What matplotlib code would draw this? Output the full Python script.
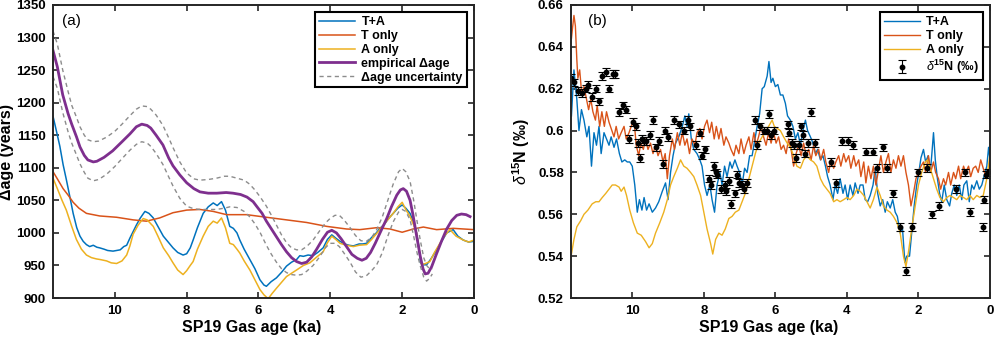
import matplotlib
matplotlib.use("Agg")
import matplotlib.pyplot as plt
from matplotlib.ticker import FuncFormatter

plt.rcParams['font.family'] = ['Liberation Sans', 'DejaVu Sans']
plt.rcParams['mathtext.fontset'] = 'custom'
plt.rcParams['mathtext.rm'] = 'Liberation Sans'
plt.rcParams['mathtext.it'] = 'Liberation Sans:italic'
plt.rcParams['mathtext.bf'] = 'Liberation Sans:bold'

# ---------------- panel (a): delta age (years) ----------------
a_emp_age = [11.72, 11.60, 11.45, 11.30, 11.20, 11.07, 10.97, 10.85, 10.75, 10.60, 10.50, 10.30,
             10.06, 9.80, 9.58, 9.40, 9.25, 9.10, 9.00, 8.85, 8.66, 8.50, 8.38, 8.19, 8.00,
             7.80, 7.63, 7.40, 7.16, 6.90, 6.71, 6.50, 6.32, 6.15, 6.04, 5.90, 5.78, 5.64,
             5.50, 5.36, 5.22, 5.08, 4.94, 4.80, 4.66, 4.52, 4.38, 4.22, 4.08, 3.96, 3.83,
             3.70, 3.55, 3.40, 3.25, 3.12, 3.00, 2.88, 2.75, 2.60, 2.43, 2.30, 2.15, 2.05,
             1.97, 1.88, 1.78, 1.70, 1.60, 1.50, 1.42, 1.36, 1.28, 1.18, 1.05, 0.90, 0.76,
             0.62, 0.48, 0.35, 0.22, 0.11]
a_emp = [1280, 1255, 1212, 1183, 1167, 1148, 1132, 1119, 1112, 1109, 1110, 1116,
         1126, 1140, 1152, 1163, 1167, 1165, 1161, 1150, 1135, 1115, 1103, 1089, 1077,
         1068, 1063, 1061, 1061, 1062, 1061, 1059, 1055, 1048, 1040, 1030, 1018, 1006,
         994, 982, 971, 962, 956, 953, 955, 963, 975, 990, 1001, 1004, 1000,
         991, 979, 967, 961, 958, 961, 970, 984, 1002, 1022, 1040, 1058, 1066,
         1068, 1064, 1050, 1028, 996, 965, 945, 937, 938, 948, 967, 988, 1006,
         1019, 1027, 1029, 1028, 1025]

a_unc_age = [11.72, 11.60, 11.45, 11.30, 11.20, 11.07, 10.97, 10.85, 10.75, 10.60, 10.45, 10.23,
             10.00, 9.80, 9.58, 9.40, 9.25, 9.10, 9.00, 8.85, 8.66, 8.50, 8.38, 8.19, 8.00,
             7.80, 7.63, 7.40, 7.17, 6.95, 6.80, 6.60, 6.40, 6.25, 6.10, 5.95, 5.78, 5.64,
             5.50, 5.36, 5.22, 5.08, 4.94, 4.80, 4.66, 4.48, 4.30, 4.14, 4.01, 3.87, 3.75,
             3.62, 3.45, 3.30, 3.15, 3.00, 2.85, 2.71, 2.55, 2.40, 2.25, 2.10, 2.00, 1.90,
             1.78, 1.68, 1.58, 1.50, 1.40, 1.32, 1.24, 1.16]
a_unc_hi = [1310, 1290, 1250, 1217, 1196, 1178, 1163, 1150, 1143, 1140, 1141, 1147,
            1156, 1167, 1180, 1190, 1195, 1194, 1190, 1181, 1165, 1146, 1131, 1109, 1092,
            1083, 1081, 1082, 1084, 1087, 1087, 1084, 1081, 1075, 1066, 1055, 1041, 1027,
            1012, 997, 985, 977, 974, 974, 979, 989, 1003, 1015, 1022, 1027, 1027,
            1020, 1008, 996, 988, 987, 993, 1005, 1025, 1050, 1075, 1094, 1099, 1094,
            1079, 1050, 1016, 990, 962, 950, 945, 945]
a_unc_lo = [1240, 1222, 1185, 1155, 1138, 1120, 1106, 1093, 1084, 1080, 1082, 1090,
            1102, 1114, 1127, 1136, 1140, 1138, 1133, 1122, 1105, 1086, 1072, 1053, 1041,
            1037, 1036, 1036, 1036, 1038, 1040, 1039, 1033, 1025, 1014, 1000, 981, 967,
            955, 945, 939, 936, 935, 936, 941, 950, 963, 977, 984, 984, 979,
            969, 955, 940, 932, 934, 942, 951, 970, 995, 1017, 1032, 1036, 1033,
            1020, 995, 968, 950, 932, 926, 930, 937]

a_t_age = [11.72, 11.60, 11.44, 11.30, 11.16, 11.00, 10.79, 10.42, 9.95, 9.49, 9.12, 8.75,
           8.38, 8.00, 7.63, 7.26, 6.89, 6.33, 5.78, 5.22, 4.66, 4.10, 3.55, 3.18, 2.71,
           2.34, 2.00, 1.69, 1.41, 1.04, 0.58, 0.00]
a_t = [1094, 1083, 1068, 1058, 1047, 1038, 1030, 1026, 1024, 1020, 1018, 1023,
       1031, 1035, 1036, 1033, 1028, 1028, 1024, 1020, 1016, 1010, 1006, 1005, 1008,
       1006, 1001, 1006, 1009, 1005, 1007, 1005]

a_ta_age = [11.72, 11.62, 11.53, 11.44, 11.35, 11.25, 11.16, 11.06, 10.97, 10.88, 10.79, 10.70,
            10.60, 10.50, 10.42, 10.30, 10.20, 10.05, 9.95, 9.85, 9.75, 9.67, 9.58, 9.49,
            9.40, 9.30, 9.20, 9.16, 9.05, 8.93, 8.80, 8.65, 8.50, 8.38, 8.25, 8.10, 8.00,
            7.90, 7.82, 7.70, 7.54, 7.40, 7.26, 7.15, 7.03, 6.92, 6.80, 6.70, 6.60, 6.52,
            6.40, 6.24, 6.10, 5.96, 5.85, 5.78, 5.65, 5.50, 5.35, 5.22, 5.08, 4.94, 4.85,
            4.75, 4.62, 4.48, 4.35, 4.20, 4.08, 3.96, 3.85, 3.73, 3.60, 3.48, 3.36, 3.20,
            3.10, 2.99, 2.85, 2.75, 2.62, 2.50, 2.38, 2.25, 2.12, 2.00, 1.90, 1.78, 1.68,
            1.60, 1.54, 1.49, 1.40, 1.32, 1.20, 1.04, 0.90, 0.76, 0.62, 0.58, 0.45, 0.30,
            0.15, 0.00]
a_ta = [1179, 1155, 1133, 1105, 1082, 1055, 1030, 1008, 995, 987, 982, 979,
        981, 978, 977, 975, 973, 972, 973, 974, 979, 981, 992, 1002,
        1012, 1022, 1030, 1033, 1030, 1023, 1010, 995, 985, 977, 970, 966, 968,
        977, 989, 1008, 1030, 1040, 1046, 1042, 1048, 1035, 1010, 1007, 1000, 989,
        975, 959, 945, 928, 920, 918, 925, 931, 940, 949, 955, 959, 965,
        964, 966, 965, 970, 977, 990, 997, 992, 987, 983, 981, 980, 983,
        983, 984, 993, 998, 1007, 1013, 1022, 1030, 1038, 1043, 1038, 1030, 1015,
        1000, 980, 954, 951, 951, 960, 974, 987, 1000, 1004, 1005, 995, 989,
        986, 987]

a_a_age = [11.72, 11.60, 11.47, 11.35, 11.20, 11.07, 10.93, 10.79, 10.65, 10.51, 10.40, 10.23,
           10.10, 9.95, 9.80, 9.67, 9.58, 9.49, 9.35, 9.21, 9.10, 8.93, 8.80, 8.65, 8.50,
           8.38, 8.25, 8.10, 8.00, 7.90, 7.82, 7.70, 7.54, 7.40, 7.26, 7.15, 7.03, 6.92,
           6.80, 6.70, 6.60, 6.52, 6.40, 6.24, 6.10, 5.96, 5.85, 5.73, 5.62, 5.50, 5.36,
           5.22, 5.08, 4.94, 4.75, 4.57, 4.40, 4.20, 4.08, 3.96, 3.85, 3.73, 3.55, 3.36,
           3.20, 2.99, 2.85, 2.62, 2.45, 2.25, 2.12, 2.00, 1.90, 1.78, 1.68, 1.60, 1.53,
           1.46, 1.35, 1.23, 1.10, 0.95, 0.80, 0.67, 0.50, 0.30, 0.15, 0.00]
a_a = [1084, 1068, 1050, 1035, 1010, 990, 975, 966, 962, 960, 959, 957,
       954, 953, 957, 966, 980, 998, 1012, 1022, 1020, 1010, 995, 977, 965,
       954, 943, 936, 942, 950, 956, 975, 995, 1010, 1018, 1015, 1023, 1008,
       984, 982, 975, 969, 957, 943, 928, 913, 905, 899, 907, 915, 924,
       933, 938, 943, 950, 954, 962, 971, 985, 995, 990, 984, 981, 979,
       981, 982, 990, 1005, 1017, 1030, 1040, 1047, 1036, 1025, 1012, 1000, 975,
       951, 953, 956, 970, 984, 997, 1005, 995, 989, 986, 989]

# ---------------- panel (b): d15N (permil) ----------------
b_ta_age = [11.70, 11.63, 11.55, 11.49, 11.42, 11.35, 11.27, 11.21, 11.14, 11.07, 11.00, 10.93,
            10.87, 10.79, 10.72, 10.65, 10.59, 10.51, 10.44, 10.36, 10.29, 10.21, 10.14, 10.07,
            10.00, 9.93, 9.86, 9.80, 9.73, 9.67, 9.60, 9.53, 9.44, 9.35, 9.26, 9.16, 9.07,
            9.00, 8.93, 8.86, 8.79, 8.70, 8.60, 8.53, 8.47, 8.42, 8.35, 8.28, 8.19, 8.11,
            8.05, 7.98, 7.91, 7.83, 7.77, 7.70, 7.63, 7.55, 7.49, 7.42, 7.35, 7.27, 7.21,
            7.13, 7.07, 7.00, 6.93, 6.86, 6.79, 6.72, 6.65, 6.59, 6.51, 6.44, 6.37, 6.31,
            6.23, 6.18, 6.12, 6.07, 6.00, 5.93, 5.86, 5.79, 5.72, 5.66, 5.58, 5.51, 5.44,
            5.37, 5.30, 5.23, 5.16, 5.10, 5.02, 4.95, 4.88, 4.82, 4.74, 4.67, 4.60, 4.54,
            4.47, 4.39, 4.33, 4.26, 4.19, 4.11, 4.05, 3.98, 3.91, 3.83, 3.77, 3.69, 3.63,
            3.55, 3.49, 3.42, 3.35, 3.27, 3.21, 3.14, 3.07, 3.00, 2.93, 2.87, 2.79, 2.72,
            2.65, 2.59, 2.51, 2.45, 2.38, 2.33, 2.25, 2.19, 2.12, 2.05, 1.99, 1.93, 1.86,
            1.80, 1.73, 1.67, 1.63, 1.58, 1.53, 1.47, 1.41, 1.35, 1.28, 1.21, 1.13, 1.07,
            1.00, 0.93, 0.86, 0.79, 0.73, 0.65, 0.58, 0.51, 0.45, 0.37, 0.30, 0.23, 0.17,
            0.09, 0.04, 0.00]
b_ta = [0.607, 0.629, 0.615, 0.600, 0.610, 0.605, 0.597, 0.602, 0.583, 0.599, 0.593, 0.602,
        0.589, 0.599, 0.596, 0.593, 0.597, 0.592, 0.596, 0.589, 0.585, 0.586, 0.585, 0.585,
        0.583, 0.574, 0.561, 0.567, 0.562, 0.568, 0.562, 0.565, 0.561, 0.563, 0.566, 0.571, 0.575,
        0.567, 0.580, 0.588, 0.594, 0.597, 0.602, 0.607, 0.602, 0.608, 0.596, 0.591, 0.589, 0.586,
        0.583, 0.574, 0.569, 0.574, 0.567, 0.561, 0.574, 0.580, 0.574, 0.583, 0.578, 0.585, 0.582,
        0.586, 0.583, 0.580, 0.574, 0.582, 0.580, 0.588, 0.588, 0.594, 0.602, 0.608, 0.620, 0.621,
        0.626, 0.633, 0.623, 0.625, 0.621, 0.622, 0.617, 0.617, 0.613, 0.607, 0.605, 0.602, 0.596,
        0.599, 0.593, 0.600, 0.605, 0.600, 0.597, 0.594, 0.589, 0.591, 0.586, 0.588, 0.583, 0.578,
        0.574, 0.567, 0.574, 0.570, 0.577, 0.570, 0.574, 0.567, 0.574, 0.569, 0.575, 0.570, 0.574,
        0.574, 0.567, 0.566, 0.569, 0.574, 0.582, 0.570, 0.564, 0.567, 0.561, 0.566, 0.563, 0.567,
        0.561, 0.559, 0.551, 0.554, 0.537, 0.540, 0.540, 0.551, 0.564, 0.574, 0.580, 0.587, 0.591,
        0.585, 0.588, 0.580, 0.588, 0.599, 0.586, 0.577, 0.570, 0.566, 0.574, 0.567, 0.564, 0.570,
        0.574, 0.569, 0.574, 0.567, 0.574, 0.576, 0.566, 0.574, 0.572, 0.576, 0.572, 0.574, 0.578,
        0.583, 0.592, 0.586]

b_t_age = [11.70, 11.67, 11.63, 11.59, 11.55, 11.52, 11.47, 11.41, 11.35, 11.28, 11.22, 11.16,
           11.10, 11.03, 10.98, 10.91, 10.85, 10.78, 10.72, 10.65, 10.59, 10.51, 10.45, 10.38,
           10.31, 10.23, 10.17, 10.09, 10.03, 9.95, 9.89, 9.82, 9.76, 9.69, 9.63, 9.56, 9.49,
           9.42, 9.35, 9.28, 9.21, 9.14, 9.08, 9.02, 8.96, 8.88, 8.82, 8.74, 8.67, 8.60, 8.53,
           8.47, 8.40, 8.33, 8.25, 8.19, 8.11, 8.05, 7.98, 7.91, 7.84, 7.78, 7.71, 7.65, 7.58,
           7.52, 7.44, 7.38, 7.30, 7.24, 7.16, 7.10, 7.02, 6.96, 6.88, 6.82, 6.74, 6.68, 6.60,
           6.54, 6.47, 6.40, 6.33, 6.26, 6.19, 6.12, 6.05, 5.98, 5.91, 5.84, 5.77, 5.70, 5.63,
           5.56, 5.49, 5.42, 5.35, 5.28, 5.21, 5.14, 5.07, 5.00, 4.93, 4.87, 4.79, 4.73, 4.65,
           4.59, 4.51, 4.45, 4.37, 4.31, 4.23, 4.17, 4.09, 4.03, 3.95, 3.89, 3.81, 3.75, 3.67,
           3.61, 3.53, 3.47, 3.40, 3.33, 3.26, 3.19, 3.13, 3.05, 2.98, 2.91, 2.84, 2.77, 2.70,
           2.63, 2.56, 2.49, 2.42, 2.35, 2.28, 2.21, 2.14, 2.07, 2.00, 1.93, 1.86, 1.80, 1.72,
           1.66, 1.58, 1.52, 1.44, 1.38, 1.30, 1.24, 1.16, 1.10, 1.02, 0.96, 0.88, 0.82, 0.74,
           0.68, 0.60, 0.54, 0.47, 0.40, 0.33, 0.26, 0.19, 0.12, 0.06, 0.00]
b_t = [0.644, 0.649, 0.655, 0.650, 0.634, 0.625, 0.629, 0.617, 0.621, 0.615, 0.610, 0.615,
       0.609, 0.605, 0.612, 0.602, 0.609, 0.602, 0.609, 0.604, 0.601, 0.597, 0.602, 0.596,
       0.599, 0.602, 0.596, 0.599, 0.602, 0.605, 0.593, 0.588, 0.594, 0.591, 0.596, 0.591, 0.594,
       0.589, 0.593, 0.588, 0.591, 0.585, 0.589, 0.577, 0.588, 0.596, 0.591, 0.599, 0.593, 0.599,
       0.593, 0.596, 0.589, 0.596, 0.593, 0.599, 0.601, 0.596, 0.602, 0.605, 0.599, 0.604, 0.596,
       0.602, 0.596, 0.601, 0.593, 0.597, 0.594, 0.591, 0.588, 0.593, 0.589, 0.596, 0.589, 0.593,
       0.597, 0.591, 0.599, 0.593, 0.597, 0.602, 0.597, 0.593, 0.599, 0.594, 0.599, 0.594, 0.597,
       0.591, 0.593, 0.589, 0.596, 0.591, 0.583, 0.589, 0.593, 0.588, 0.594, 0.588, 0.591, 0.586,
       0.593, 0.588, 0.591, 0.586, 0.591, 0.585, 0.580, 0.586, 0.582, 0.585, 0.588, 0.583, 0.589,
       0.585, 0.588, 0.582, 0.588, 0.583, 0.586, 0.578, 0.585, 0.575, 0.583, 0.577, 0.583, 0.574,
       0.580, 0.588, 0.580, 0.585, 0.589, 0.580, 0.586, 0.582, 0.588, 0.583, 0.588, 0.580, 0.574,
       0.564, 0.570, 0.577, 0.580, 0.583, 0.585, 0.580, 0.588, 0.580, 0.585, 0.580, 0.577, 0.572,
       0.577, 0.574, 0.580, 0.574, 0.580, 0.577, 0.583, 0.577, 0.583, 0.580, 0.583, 0.578, 0.582,
       0.583, 0.580, 0.586, 0.582, 0.578, 0.580, 0.583]

b_a_age = [11.70, 11.63, 11.55, 11.44, 11.35, 11.24, 11.12, 11.02, 10.93, 10.84, 10.74, 10.65,
           10.56, 10.47, 10.37, 10.31, 10.23, 10.16, 10.07, 9.97, 9.86, 9.75, 9.63, 9.53, 9.44,
           9.35, 9.23, 9.12, 9.02, 8.93, 8.84, 8.74, 8.65, 8.56, 8.47, 8.37, 8.28, 8.19, 8.09,
           8.00, 7.91, 7.81, 7.75, 7.67, 7.58, 7.49, 7.40, 7.30, 7.21, 7.12, 7.02, 6.93, 6.84,
           6.74, 6.65, 6.56, 6.47, 6.37, 6.28, 6.19, 6.09, 6.03, 5.95, 5.86, 5.77, 5.67, 5.58,
           5.49, 5.40, 5.30, 5.21, 5.12, 5.02, 4.93, 4.84, 4.74, 4.65, 4.56, 4.47, 4.37, 4.28,
           4.19, 4.09, 4.00, 3.91, 3.81, 3.72, 3.63, 3.53, 3.44, 3.35, 3.26, 3.16, 3.07, 2.98,
           2.88, 2.79, 2.70, 2.60, 2.51, 2.42, 2.35, 2.28, 2.19, 2.09, 2.00, 1.91, 1.81, 1.75,
           1.67, 1.58, 1.49, 1.40, 1.30, 1.21, 1.12, 1.02, 0.93, 0.84, 0.74, 0.65, 0.56, 0.47,
           0.37, 0.28, 0.19, 0.09, 0.00]
b_a = [0.541, 0.548, 0.554, 0.557, 0.560, 0.562, 0.565, 0.566, 0.566, 0.568, 0.570, 0.572,
       0.574, 0.574, 0.573, 0.571, 0.573, 0.569, 0.562, 0.556, 0.551, 0.550, 0.547, 0.544, 0.546,
       0.551, 0.556, 0.561, 0.567, 0.574, 0.578, 0.582, 0.586, 0.583, 0.582, 0.580, 0.578, 0.574,
       0.569, 0.561, 0.553, 0.546, 0.541, 0.548, 0.551, 0.550, 0.553, 0.558, 0.559, 0.561, 0.562,
       0.566, 0.570, 0.577, 0.583, 0.589, 0.594, 0.597, 0.599, 0.602, 0.605, 0.602, 0.601, 0.600,
       0.597, 0.594, 0.592, 0.588, 0.583, 0.582, 0.586, 0.588, 0.586, 0.585, 0.583, 0.577, 0.574,
       0.572, 0.570, 0.566, 0.567, 0.566, 0.567, 0.568, 0.567, 0.569, 0.572, 0.571, 0.569, 0.566,
       0.563, 0.567, 0.573, 0.569, 0.564, 0.562, 0.561, 0.559, 0.556, 0.551, 0.540, 0.535, 0.542,
       0.553, 0.564, 0.574, 0.580, 0.585, 0.586, 0.582, 0.577, 0.572, 0.568, 0.566, 0.568, 0.569,
       0.568, 0.567, 0.569, 0.568, 0.567, 0.569, 0.567, 0.569, 0.568, 0.569, 0.577, 0.589]

d15n_age = [11.72, 11.63, 11.52, 11.41, 11.30, 11.23, 11.12, 11.02, 10.93, 10.84, 10.74, 10.65,
            10.55, 10.47, 10.37, 10.25, 10.17, 10.09, 9.98, 9.89, 9.84, 9.79, 9.72, 9.66, 9.61,
            9.51, 9.43, 9.35, 9.25, 9.15, 9.08, 9.00, 8.84, 8.70, 8.56, 8.44, 8.39, 8.23, 8.11,
            8.05, 7.98, 7.86, 7.79, 7.72, 7.67, 7.63, 7.51, 7.42, 7.37, 7.29, 7.23, 7.13, 7.07,
            7.01, 6.94, 6.88, 6.79, 6.56, 6.51, 6.44, 6.33, 6.23, 6.19, 6.12, 6.03, 5.66, 5.62,
            5.53, 5.49, 5.41, 5.35, 5.28, 5.23, 5.16, 5.10, 5.01, 4.88, 4.45, 4.30, 4.14, 3.98,
            3.84, 3.47, 3.27, 3.16, 2.99, 2.87, 2.70, 2.51, 2.35, 2.18, 2.02, 1.75, 1.62, 1.44,
            0.96, 0.70, 0.56, 0.21, 0.16, 0.11, 0.05]
d15n = [0.625, 0.623, 0.619, 0.618, 0.620, 0.622, 0.616, 0.620, 0.614, 0.626, 0.628, 0.620,
        0.627, 0.627, 0.609, 0.612, 0.610, 0.596, 0.604, 0.602, 0.594, 0.587, 0.596, 0.595, 0.595,
        0.598, 0.605, 0.592, 0.595, 0.584, 0.600, 0.597, 0.605, 0.603, 0.600, 0.605, 0.602, 0.593,
        0.599, 0.588, 0.591, 0.577, 0.574, 0.583, 0.580, 0.579, 0.572, 0.574, 0.571, 0.576, 0.565,
        0.570, 0.579, 0.575, 0.574, 0.572, 0.575, 0.605, 0.593, 0.602, 0.600, 0.600, 0.608, 0.598,
        0.600, 0.603, 0.599, 0.594, 0.593, 0.587, 0.593, 0.602, 0.598, 0.589, 0.594, 0.609, 0.594,
        0.585, 0.575, 0.595, 0.595, 0.593, 0.590, 0.590, 0.582, 0.592, 0.582, 0.570, 0.554, 0.533,
        0.554, 0.580, 0.582, 0.560, 0.564, 0.572, 0.580, 0.561, 0.554, 0.567, 0.579, 0.580]
d15n_err = 0.0018

c_blue = '#0072BD'
c_orange = '#D95319'
c_yellow = '#EDB120'
c_purple = '#7E2F8E'
c_gray = '#8c8c8c'

d15n_label = r'$\delta^{\mathbf{15}}$N (' + '\u2030' + ')'

fig = plt.figure(figsize=(9.95, 3.4), dpi=100)
ax1 = fig.add_axes([0.0533, 0.1235, 0.4231, 0.8618])
ax2 = fig.add_axes([0.5736, 0.1235, 0.4214, 0.8618])

ax1.plot(a_ta_age, a_ta, color=c_blue, lw=1.1, label='T+A')
ax1.plot(a_t_age, a_t, color=c_orange, lw=1.1, label='T only')
ax1.plot(a_a_age, a_a, color=c_yellow, lw=1.1, label='A only')
ax1.plot(a_emp_age, a_emp, color=c_purple, lw=2.0, label='empirical \u0394age')
ax1.plot(a_unc_age, a_unc_hi, color=c_gray, lw=1.0, ls='--', dashes=(3, 2.5), label='\u0394age uncertainty')
ax1.plot(a_unc_age, a_unc_lo, color=c_gray, lw=1.0, ls='--', dashes=(3, 2.5))
ax1.set_ylim(900, 1350)
ax1.set_yticks(range(900, 1351, 50))
ax1.set_ylabel('\u0394age (years)', fontsize=11.5, fontweight='bold', labelpad=2)
ax1.text(0.022, 0.97, '(a)', transform=ax1.transAxes, fontsize=11, va='top', ha='left')

ax2.plot(b_ta_age, b_ta, color=c_blue, lw=1.0, label='T+A')
ax2.plot(b_t_age, b_t, color=c_orange, lw=1.0, label='T only')
ax2.plot(b_a_age, b_a, color=c_yellow, lw=1.0, label='A only')
ax2.errorbar(d15n_age, d15n, yerr=d15n_err, fmt='o', color='black', ms=3.2, elinewidth=0.8,
             capsize=3, capthick=0.8, label=d15n_label)
ax2.set_ylim(0.52, 0.66)
ax2.set_yticks([0.52, 0.54, 0.56, 0.58, 0.60, 0.62, 0.64, 0.66])
ax2.yaxis.set_major_formatter(FuncFormatter(lambda v, p: ('%.2f' % v).rstrip('0')))
ax2.set_ylabel(d15n_label, fontsize=11.5, fontweight='bold', labelpad=4)
ax2.text(0.04, 0.97, '(b)', transform=ax2.transAxes, fontsize=11, va='top', ha='left')

for ax in (ax1, ax2):
    ax.set_xlim(11.72, 0)
    ax.set_xticks([10, 8, 6, 4, 2, 0])
    ax.set_xlabel('SP19 Gas age (ka)', fontsize=11.5, fontweight='bold')
    ax.xaxis.set_label_coords(0.472, -0.075)
    ax.tick_params(direction='in', length=4, width=1.2, top=True, right=True,
                   labelsize=9.5, color='#262626', pad=5)
    for lbl in ax.get_xticklabels() + ax.get_yticklabels():
        lbl.set_fontweight('bold')
    for sp in ax.spines.values():
        sp.set_linewidth(1.4)
        sp.set_color('#262626')
    leg = ax.legend(loc='upper right', prop={'weight': 'bold', 'size': 9},
                    fancybox=False, framealpha=1, edgecolor='black', borderpad=0.3,
                    labelspacing=0.15, handlelength=2.9, handletextpad=0.5,
                    borderaxespad=0.6)
    leg.get_frame().set_linewidth(1.5)

fig.savefig('out.png', dpi=100)
